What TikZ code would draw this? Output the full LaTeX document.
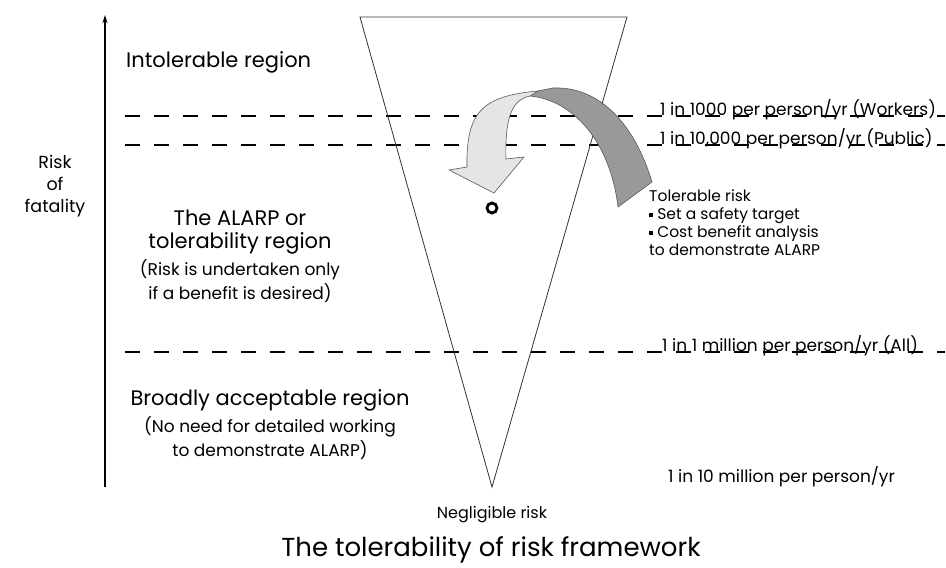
\documentclass[tikz,border=0pt]{standalone}
\usepackage{fontspec}
\setmainfont{Poppins}
\usetikzlibrary{arrows.meta}
\tikzset{
  dashline/.style={line width=2pt, dash pattern=on 15pt off 14pt},
  big/.style={font=\fontsize{21}{25}\selectfont, inner sep=0pt},
  mid/.style={font=\fontsize{17}{20}\selectfont, inner sep=0pt},
  lab/.style={font=\fontsize{17}{20}\selectfont, inner sep=0pt, anchor=base west},
  band/.style={draw=black!65, line width=0.6pt},
}
\newcommand{\sqbul}{\rule[3pt]{4pt}{4pt}}
\begin{document}
\begin{tikzpicture}[x=1pt,y=-1pt]
\useasboundingbox[fill=white] (0,0) rectangle (946,568);
% axis
\coordinate (axb) at (105,487);
\coordinate (axt) at (105,15);
\draw[line width=1.6pt, -{Stealth[length=8pt,width=5pt]}] (axb) -- (axt);
% dashed lines
\coordinate (d1a) at (125,116); \coordinate (d1b) at (945,116);
\coordinate (d2a) at (125,145); \coordinate (d2b) at (945,145);
\coordinate (d3a) at (125,352); \coordinate (d3b) at (945,352);
\draw[dashline] (d1a) -- (d1b);
\draw[dashline] (d2a) -- (d2b);
\draw[dashline] (d3a) -- (d3b);
% triangle
\coordinate (tl) at (360,17);
\coordinate (tr) at (627,17);
\coordinate (tip) at (492,487);
\draw[line width=0.8pt, black!80] (tl) -- (tr) -- (tip) -- cycle;
% curved arrow: dark band
\fill[black!40] (530,96) .. controls (572,100) and (610,140) .. (618,207)
  -- (652,182) .. controls (635,125) and (600,86) .. (553,88) -- (538,91) -- cycle;
\draw[band] (530,96) .. controls (572,100) and (610,140) .. (618,207)
  -- (652,182) .. controls (635,125) and (600,86) .. (553,88) -- (538,91);
% light band
\filldraw[band, fill=black!10] (538,91) .. controls (482,96) and (466,112) .. (467,167)
  -- (449,170) -- (494,193) -- (524,157) -- (506,159)
  .. controls (505,122) and (510,100) .. (530,96) -- cycle;
% circle
\node[circle, draw, line width=2.8pt, minimum size=10pt, inner sep=0pt] (pt) at (492,208) {};
% left texts
\node[big, anchor=west] (intol) at (126,62) {Intolerable region};
\node[font=\fontsize{17.5}{22}\selectfont, inner sep=0pt, align=center] (risk) at (55,186) {Risk\\of\\fatality};
\node[big] (alarp1) at (240,218) {The ALARP or};
\node[big] (alarp2) at (240,243) {tolerability region};
\node[mid] (alarp3) at (240,270) {(Risk is undertaken only};
\node[mid] (alarp4) at (240,293) {if a benefit is desired)};
\node[big] (broad1) at (270,400) {Broadly acceptable region};
\node[mid] (broad2) at (270,427) {(No need for detailed working};
\node[mid] (broad3) at (270,450) {to demonstrate ALARP)};
% right labels
\node[lab] (w) at (660,115) {1 in 1000 per person/yr (Workers)};
\node[lab] (p) at (660,144) {1 in 10,000 per person/yr (Public)};
\node[lab] (a) at (662,351) {1 in 1 million per person/yr (All)};
\node[lab] (ten) at (668,482) {1 in 10 million per person/yr};
\node[font=\fontsize{15.5}{18}\selectfont, inner sep=0pt, align=left, anchor=north west] (tol) at (649,190)
  {Tolerable risk\\\sqbul{} Set a safety target\\\sqbul{} Cost benefit analysis\\to demonstrate ALARP};
% bottom
\node[font=\fontsize{16}{19}\selectfont, inner sep=0pt] (neg) at (492,515) {Negligible risk};
\node[font=\fontsize{26}{30}\selectfont, inner sep=0pt] (title) at (491,550) {The tolerability of risk framework};
\end{tikzpicture}
\end{document}
